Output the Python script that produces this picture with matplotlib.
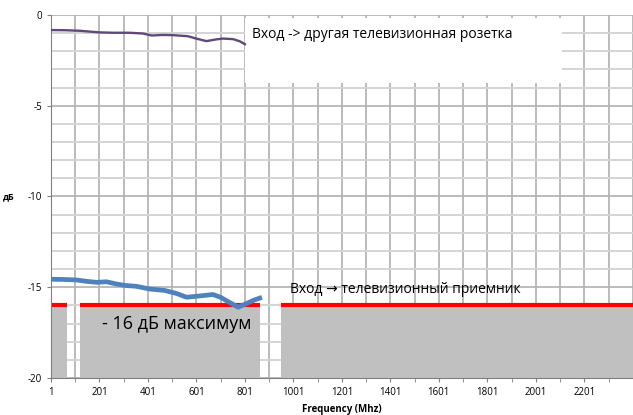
import matplotlib
matplotlib.use("Agg")
import matplotlib.pyplot as plt
import numpy as np

plt.rcParams['font.family'] = ['Open Sans', 'DejaVu Sans']
plt.rcParams['axes.unicode_minus'] = False

# Вход -> другая розетка (фиолетовая линия)
f_outlet = [1, 60, 120, 202, 260, 326, 380, 416, 460, 503, 566, 600, 642, 680, 710, 752, 780, 801]
db_outlet = [-0.83, -0.84, -0.87, -0.96, -0.98, -0.98, -1.02, -1.13, -1.1, -1.11, -1.17, -1.3, -1.44, -1.35, -1.3, -1.33, -1.45, -1.61]

# Вход -> ТВ приемник (синяя линия)
f_tv = [1, 50, 106, 150, 189, 230, 270, 306, 353, 409, 471, 520, 560, 615, 669, 700, 726, 773, 807, 840, 862]
db_tv = [-14.56, -14.57, -14.6, -14.68, -14.73, -14.7, -14.82, -14.9, -14.95, -15.1, -15.18, -15.35, -15.55, -15.48, -15.4, -15.55, -15.75, -16.1, -15.9, -15.7, -15.6]

# диапазоны с ограничением -16 дБ
bands = [(5, 65), (120, 862), (950, 2400)]
limit = -16

fig = plt.figure(figsize=(6.33, 4.15), dpi=100)
ax = fig.add_axes([0.0806, 0.0892, 0.919, 0.8747])

ax.set_xlim(1, 2401)
ax.set_ylim(-20, 0)

ax.set_xticks(np.arange(1, 2400, 200))
ax.set_xticks(np.arange(1, 2402, 100), minor=True)
ax.set_yticks([0, -5, -10, -15, -20])
ax.set_yticks(np.arange(-20, 1, 1), minor=True)
ax.set_xticklabels([str(v) for v in np.arange(1, 2400, 200)])

ax.grid(True, axis='x', which='both', color='#a8a8a8', lw=1.1, zorder=0)
ax.grid(True, axis='y', which='minor', color='#d4d4d4', lw=1.4, zorder=0)
ax.grid(True, axis='y', which='major', color='#b0b0b0', lw=1.2, zorder=0)
ax.set_axisbelow(True)

ax.tick_params(axis='both', which='both', labelsize=7, colors='#808080', labelcolor='black', length=3)
ax.tick_params(axis='y', which='minor', length=0)
for s in ['top', 'right']:
    ax.spines[s].set_visible(False)
for s in ['left', 'bottom']:
    ax.spines[s].set_color('#808080')

for a, b in bands:
    ax.fill_between([a, b], limit, -20, color='#c0c0c0', lw=0, zorder=1)
    ax.plot([a, b], [limit, limit], color='#ff0000', lw=3, solid_capstyle='butt', zorder=3)

# белая плашка под подписью
box = plt.Rectangle((0.333, 0.813), 0.546, 0.179, transform=ax.transAxes,
                    facecolor='white', edgecolor='none', zorder=2)
ax.add_patch(box)

ax.plot(f_outlet, db_outlet, color='#60497a', lw=1.7, zorder=4)
ax.plot(f_tv, db_tv, color='#4f81bd', lw=3.4, zorder=4)

ax.text(830, -1.1, 'Вход -> другая телевизионная розетка', fontsize=10, va='center', ha='left', zorder=5)
ax.text(987, -15.1, 'Вход \u2192 телевизионный приемник', fontsize=10, va='center', ha='left', zorder=5)
ax.text(521, -17.0, '- 16 дБ максимум', fontsize=13, va='center', ha='center', zorder=5)

ax.set_xlabel('Frequency (Mhz)', fontsize=7, fontweight='bold', labelpad=4)
fig.text(0.005, 0.525, 'дБ', fontsize=6.5, fontweight='bold', va='center', ha='left')

fig.savefig('out.png', dpi=100)
